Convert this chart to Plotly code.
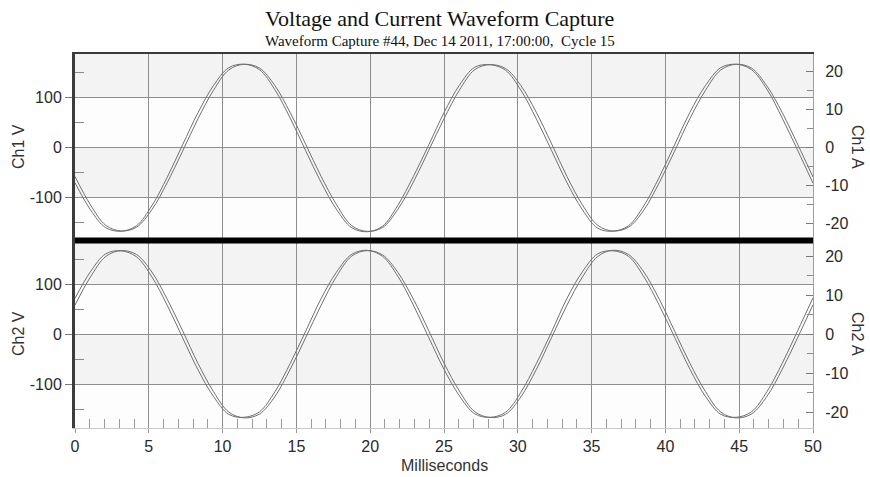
import plotly.graph_objects as go

# ---- data (sample times in ms) ----
time_ms = [0.0, 1.042, 2.083, 3.125, 4.167, 5.208, 6.25, 7.292, 8.333, 9.375,
           10.417, 11.458, 12.5, 13.542, 14.583, 15.625, 16.667, 17.708, 18.75, 19.792,
           20.833, 21.875, 22.917, 23.958, 25.0, 26.042, 27.083, 28.125, 29.167, 30.208,
           31.25, 32.292, 33.333, 34.375, 35.417, 36.458, 37.5, 38.542, 39.583, 40.625,
           41.667, 42.708, 43.75, 44.792, 45.833, 46.875, 47.917, 48.958, 50.0]

ch1_volts = [-70, -124, -160, -167, -156, -116, -59, 6, 70, 124, 160, 167, 156, 116, 59, -6,
             -69, -123, -160, -168, -157, -115, -58, 5, 70, 125, 161, 166, 155, 115, 58, -6,
             -70, -124, -161, -167, -156, -116, -59, 6, 71, 124, 160, 167, 156, 117, 59, -5,
             -71]
ch1_amps = [-7.6, -15.0, -20.4, -21.9, -20.9, -16.3, -9.2, -0.9, 7.6, 15.0, 20.4, 21.9, 20.9, 16.3, 9.2, 0.9,
            -7.5, -14.9, -20.5, -22.0, -21.0, -16.2, -9.1, -0.8, 7.6, 15.1, 20.5, 21.8, 20.8, 16.3, 9.3, 1.0,
            -7.6, -15.0, -20.4, -21.9, -20.9, -16.4, -9.2, -0.9, 7.7, 15.0, 20.4, 21.9, 20.9, 16.2, 9.2, 0.9,
            -7.7]
ch2_volts = [72, 125, 161, 167, 155, 115, 58, -7, -71, -124, -160, -166, -155, -115, -58, 6,
             71, 124, 160, 168, 156, 116, 59, -6, -70, -123, -159, -166, -156, -116, -59, 5,
             72, 125, 161, 167, 156, 115, 58, -6, -70, -124, -160, -166, -155, -115, -58, 7,
             73]
ch2_amps = [7.5, 14.7, 20.0, 21.5, 20.5, 16.0, 9.0, 0.9, -7.5, -14.7, -20.0, -21.5, -20.5, -16.0, -9.0, -0.9,
            7.4, 14.8, 20.1, 21.5, 20.4, 15.9, 9.1, 1.0, -7.4, -14.6, -19.9, -21.4, -20.6, -16.1, -9.1, -0.8,
            7.5, 14.7, 20.0, 21.6, 20.5, 16.0, 9.0, 0.8, -7.5, -14.7, -20.0, -21.5, -20.5, -16.0, -9.0, -0.9,
            7.6]

x_ticks = [0, 5, 10, 15, 20, 25, 30, 35, 40, 45, 50]
x_minor = [v for v in range(0, 51) if v % 5 != 0]
v_ticks = [-100, 0, 100]
v_labels = ["-100", "0", "100"]
v_minor = [-150, -50, 50, 150]
a_ticks = [-20, -10, 0, 10, 20]
a_labels = ["-20", "-10", "0", "10", "20"]
a_minor = [-15, -5, 5, 15]

title = "Voltage and Current Waveform Capture"
subtitle = "Waveform Capture #44, Dec 14 2011, 17:00:00,  Cycle 15"

# ---- styling ----
LINE = "#707070"
GRID = "#8e8e8e"
SANS = "Liberation Sans, Arial, sans-serif"
SERIF = "Liberation Serif, Times New Roman, serif"
SPLIT = 0.5013
V_RANGE_TOP = [-185.6, 187.4]
A_RANGE_TOP = [-24.4, 24.6]
V_RANGE_BOT = [-187.4, 187.6]
A_RANGE_BOT = [-24.1, 24.1]

fig = go.Figure()
line = dict(color=LINE, width=1, shape="spline", smoothing=1.0)
fig.add_trace(go.Scatter(x=time_ms, y=ch1_volts, xaxis="x2", yaxis="y3", mode="lines", line=line, name="Ch1 V"))
fig.add_trace(go.Scatter(x=time_ms, y=ch1_amps, xaxis="x2", yaxis="y4", mode="lines", line=line, name="Ch1 A"))
fig.add_trace(go.Scatter(x=time_ms, y=ch2_volts, xaxis="x", yaxis="y", mode="lines", line=line, name="Ch2 V"))
fig.add_trace(go.Scatter(x=time_ms, y=ch2_amps, xaxis="x", yaxis="y2", mode="lines", line=line, name="Ch2 A"))

tickfont = dict(family=SANS, size=16, color="#2a2a2a")


def left_axis(domain, rng, anchor):
    return dict(domain=domain, anchor=anchor, range=rng, tickmode="array", tickvals=v_ticks,
                ticktext=v_labels,
                ticks="outside", ticklen=7, tickcolor="#777777", tickfont=tickfont,
                minor=dict(tickmode="array", tickvals=v_minor, ticks="inside", ticklen=9,
                           tickcolor="#8a8a8a", showgrid=False),
                showline=True, linecolor="#3c3c3c", linewidth=3,
                showgrid=True, gridcolor=GRID, gridwidth=1, zeroline=False, fixedrange=True)


def right_axis(over, rng, anchor):
    return dict(overlaying=over, side="right", anchor=anchor, range=rng, tickmode="array",
                tickvals=a_ticks, ticktext=a_labels, ticks="inside", ticklen=7,
                tickcolor="#777777", tickfont=tickfont, ticklabelstandoff=8,
                minor=dict(tickmode="array", tickvals=a_minor, ticks="inside", ticklen=6,
                           tickcolor="#8a8a8a", showgrid=False),
                showline=True, linecolor="#a0a0a0", linewidth=1,
                showgrid=False, zeroline=False, fixedrange=True)


shapes = []
for xr, yr, rng in (("x2", "y3", V_RANGE_TOP), ("x", "y", V_RANGE_BOT)):
    for y0, y1 in ((100, rng[1]), (-100, 0)):
        shapes.append(dict(type="rect", xref=xr, yref=yr, x0=0, x1=50, y0=y0, y1=y1,
                           fillcolor="#f3f3f3", line=dict(width=0), layer="below"))
shapes.append(dict(type="line", xref="paper", yref="paper", x0=0, x1=1, y0=SPLIT, y1=SPLIT,
                   line=dict(color="#000000", width=6), layer="above"))

annotations = [
    dict(text=title, xref="paper", yref="paper", x=0.494, y=1.0936, showarrow=False,
         font=dict(family=SERIF, size=22, color="#111111"), xanchor="center", yanchor="middle"),
    dict(text=subtitle, xref="paper", yref="paper", x=0.494, y=1.0348, showarrow=False,
         font=dict(family=SERIF, size=15, color="#111111"), xanchor="center", yanchor="middle"),
    dict(text="Ch1 V", xref="paper", yref="paper", x=-0.0772, y=0.7513, textangle=-90, showarrow=False,
         font=dict(family=SANS, size=16, color="#333333"), xanchor="center", yanchor="middle"),
    dict(text="Ch2 V", xref="paper", yref="paper", x=-0.0772, y=0.2513, textangle=-90, showarrow=False,
         font=dict(family=SANS, size=16, color="#333333"), xanchor="center", yanchor="middle"),
    dict(text="Ch1 A", xref="paper", yref="paper", x=1.061, y=0.7513, textangle=90, showarrow=False,
         font=dict(family=SANS, size=16, color="#333333"), xanchor="center", yanchor="middle"),
    dict(text="Ch2 A", xref="paper", yref="paper", x=1.061, y=0.2513, textangle=90, showarrow=False,
         font=dict(family=SANS, size=16, color="#333333"), xanchor="center", yanchor="middle"),
    dict(text="Milliseconds", xref="paper", yref="paper", x=0.5, y=-0.099, showarrow=False,
         font=dict(family=SANS, size=16, color="#333333"), xanchor="center", yanchor="middle"),
]

fig.update_layout(
    width=870, height=477,
    margin=dict(l=75, r=57, t=54, b=49),
    paper_bgcolor="#ffffff", plot_bgcolor="#fdfdfd",
    showlegend=False,
    xaxis=dict(domain=[0, 1], anchor="y", range=[0, 50], tickmode="array", tickvals=x_ticks,
               ticks="outside", ticklen=4, tickcolor="#999999", tickfont=tickfont,
               minor=dict(tickmode="array", tickvals=x_minor, ticks="inside", ticklen=9,
                          tickcolor="#9a9a9a", showgrid=False),
               showline=True, linecolor="#c8c8c8", linewidth=1,
               showgrid=True, gridcolor=GRID, zeroline=False, fixedrange=True),
    xaxis2=dict(domain=[0, 1], anchor="y3", matches="x", range=[0, 50], tickmode="array",
                tickvals=x_ticks, showticklabels=False, ticks="", side="top",
                showline=True, linecolor="#3a3a3a", linewidth=2,
                showgrid=True, gridcolor=GRID, zeroline=False, fixedrange=True),
    yaxis=left_axis([0, SPLIT], V_RANGE_BOT, "x"),
    yaxis2=right_axis("y", A_RANGE_BOT, "x"),
    yaxis3=left_axis([SPLIT, 1], V_RANGE_TOP, "x2"),
    yaxis4=right_axis("y3", A_RANGE_TOP, "x2"),
    shapes=shapes,
    annotations=annotations,
)

fig.write_html("out.html")
